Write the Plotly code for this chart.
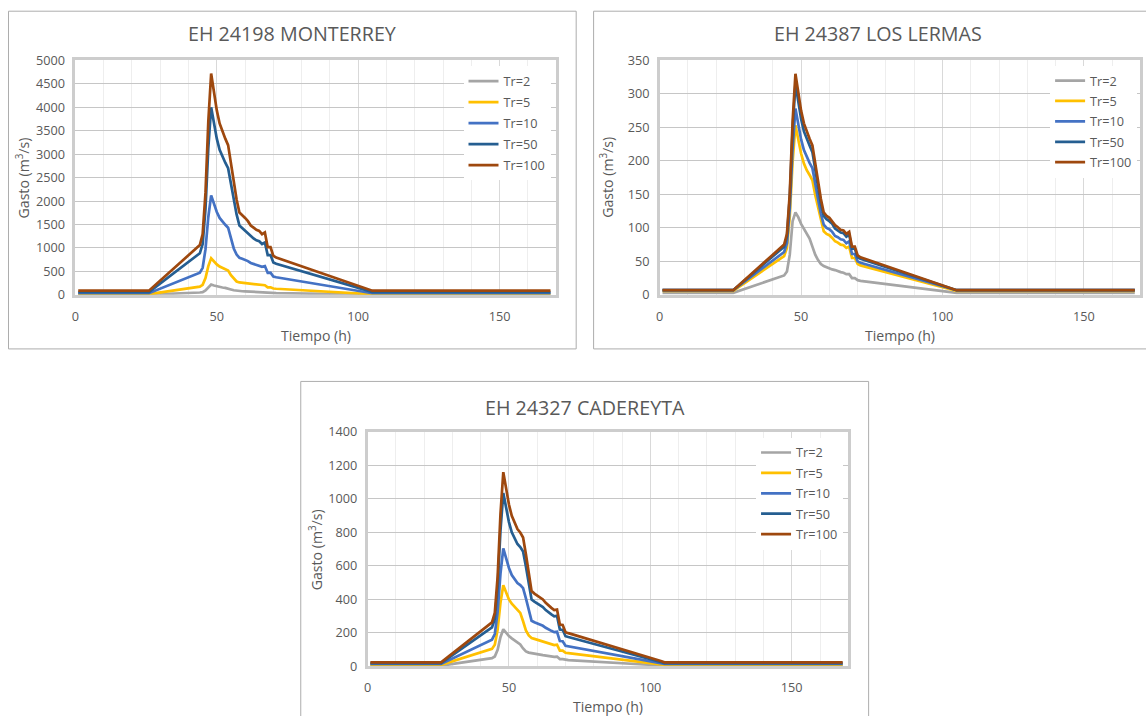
import plotly.graph_objects as go

# ---------------- data ----------------
tiempo = [1, 26, 44, 45, 46, 47, 48, 49, 50, 51, 52, 53, 54, 55, 56, 57, 58, 59, 60,
          61, 62, 63, 64, 65, 66, 67, 68, 69, 70, 71, 104, 105, 168]

series_names = ["Tr=2", "Tr=5", "Tr=10", "Tr=50", "Tr=100"]

# EH 24198 MONTERREY
mty_tr2 = [5, 5, 50, 58, 95, 170, 220, 200, 182, 168, 158, 150, 140, 115, 98, 88, 80, 77, 75,
           72, 68, 66, 63, 62, 59, 60, 45, 45, 40, 38, 6, 5, 5]
mty_tr5 = [15, 15, 176, 214, 359, 612, 780, 711, 650, 604, 573, 551, 520, 420, 340, 285, 265, 258, 250,
           240, 230, 222, 215, 210, 200, 205, 160, 160, 135, 130, 18, 15, 15]
mty_tr10 = [35, 35, 473, 577, 973, 1661, 2120, 1932, 1766, 1640, 1557, 1495, 1432, 1200, 990, 860, 790, 770, 750,
            720, 680, 660, 640, 630, 600, 615, 470, 475, 390, 375, 45, 35, 35]
mty_tr50 = [60, 60, 887, 1084, 1833, 3133, 4000, 3645, 3330, 3094, 2936, 2818, 2700, 2345, 2030, 1715, 1478, 1419, 1380,
            1321, 1242, 1203, 1163, 1144, 1084, 1116, 848, 848, 690, 663, 80, 60, 60]
mty_tr100 = [90, 90, 1062, 1294, 2174, 3701, 4720, 4303, 3933, 3655, 3470, 3331, 3192, 2775, 2405, 2035, 1757, 1687, 1641,
             1572, 1479, 1433, 1386, 1363, 1294, 1331, 1016, 1016, 831, 798, 113, 90, 90]

# EH 24387 LOS LERMAS
ler_tr2 = [3, 3, 29, 35, 60, 110, 123, 116, 106, 98, 92, 84, 72, 60, 52, 46, 43, 41, 40,
           38, 37, 35, 34, 33, 31, 31, 25, 25, 22, 21, 4, 3, 3]
ler_tr5 = [6, 6, 58, 70, 117, 199, 253, 231, 211, 196, 186, 179, 171, 149, 130, 110, 95, 91, 89,
           85, 80, 78, 75, 74, 70, 72, 55, 55, 46, 44, 7, 6, 6]
ler_tr10 = [7, 7, 64, 77, 129, 218, 278, 254, 232, 216, 205, 197, 189, 164, 143, 121, 105, 100, 98,
            94, 88, 86, 83, 82, 77, 80, 61, 61, 50, 48, 8, 7, 7]
ler_tr50 = [7, 7, 72, 87, 146, 247, 315, 287, 263, 244, 232, 223, 213, 186, 161, 136, 118, 113, 110,
            106, 99, 96, 93, 92, 87, 90, 69, 69, 56, 54, 9, 7, 7]
ler_tr100 = [7, 7, 75, 91, 152, 259, 330, 301, 275, 256, 243, 233, 223, 194, 169, 143, 123, 118, 115,
             110, 104, 101, 97, 96, 91, 94, 72, 72, 59, 56, 9, 7, 7]

# EH 24327 CADEREYTA
cad_tr2 = [5, 5, 50, 60, 100, 175, 222, 200, 182, 168, 155, 145, 132, 108, 90, 83, 79, 76, 74,
           71, 68, 65, 62, 61, 58, 59, 44, 44, 40, 38, 6, 5, 5]
cad_tr5 = [10, 10, 105, 130, 220, 380, 485, 440, 400, 375, 355, 340, 320, 270, 215, 185, 170, 165, 160,
           155, 148, 142, 138, 135, 128, 130, 95, 95, 82, 80, 12, 10, 10]
cad_tr10 = [15, 15, 160, 194, 326, 553, 705, 643, 588, 546, 519, 498, 486, 468, 407, 340, 273, 264, 258,
            252, 243, 231, 220, 213, 205, 207, 152, 151, 124, 121, 19, 15, 15]
cad_tr50 = [20, 20, 233, 284, 477, 811, 1035, 943, 862, 801, 761, 731, 713, 686, 597, 498, 400, 387, 378,
            369, 355, 337, 321, 311, 299, 302, 221, 219, 181, 176, 25, 20, 20]
cad_tr100 = [25, 25, 263, 320, 536, 910, 1160, 1058, 967, 899, 854, 820, 800, 770, 670, 560, 450, 435, 425,
             415, 400, 380, 362, 350, 337, 340, 250, 248, 205, 199, 31, 25, 25]

titles = ["EH 24198 MONTERREY", "EH 24387 LOS LERMAS", "EH 24327 CADEREYTA"]
y_max = [5000, 350, 1400]
y_dtick = [500, 50, 200]
x_ticks = [0, 50, 100, 150]

# ---------------- styling ----------------
W, H = 1150, 725
colors = ["#A5A5A5", "#FFC000", "#4472C4", "#255E91", "#9E480E"]
FONT = "Open Sans"
TXT = "#595959"

# target screen positions are given in picture pixels; map them to figure pixels
SX, OX = 0.995, 3.0
SY, OY = 0.978, 6.8

def fx(x):
    return (x - OX) / SX

def fy(y):
    return (y - OY) / SY

def px(x):
    return fx(x) / W

def py(y):
    return 1 - fy(y) / H

# geometry in picture pixels: (plot left, plot right, plot top, plot bottom)
plots = [(74.3, 554.3, 57.3, 292.5), (657.7, 1137.7, 57.3, 292.5), (366.0, 846.0, 430.0, 665.2)]
panels = [(7.5, 8.0, 574.3, 346.7), (591.7, 8.0, 1165.0, 346.7), (299.3, 379.3, 866.3, 730.0)]
title_y = [30.8, 30.8, 405.0]
# legend: (left edge, first item centre, extra gap between items)
legend_pos = [(461.8, 79.5, 1.5), (1047.5, 79.0, 0.9), (753.9, 452.0, 0.9)]
LEG_CENTER_OFFSET = 16.6  # figure px from legend top to first item centre

data_sets = [
    [mty_tr2, mty_tr5, mty_tr10, mty_tr50, mty_tr100],
    [ler_tr2, ler_tr5, ler_tr10, ler_tr50, ler_tr100],
    [cad_tr2, cad_tr5, cad_tr10, cad_tr50, cad_tr100],
]

fig = go.Figure()
layout = dict(
    width=W, height=H, margin=dict(l=0, r=0, t=0, b=0),
    paper_bgcolor="white", plot_bgcolor="white",
    font=dict(family=FONT, color=TXT, size=12.7),
    showlegend=True,
)
shapes = []
annotations = []

for i in range(3):
    sfx = "" if i == 0 else str(i + 1)
    leg = "legend" if i == 0 else "legend" + str(i + 1)
    for j, name in enumerate(series_names):
        fig.add_trace(go.Scatter(
            x=tiempo, y=data_sets[i][j], mode="lines", name=name,
            line=dict(color=colors[j], width=2.7),
            xaxis="x" + sfx, yaxis="y" + sfx, legend=leg,
            legendgroup=f"p{i}s{j}",
        ))
    l, r, t, b = plots[i]
    layout["xaxis" + sfx] = dict(
        domain=[px(l), min(px(r), 1.0)], anchor="y" + sfx, range=[0, 170],
        tickvals=x_ticks, ticks="outside", ticklen=8, tickcolor="rgba(0,0,0,0)",
        showgrid=True, gridcolor="#D9D9D9", gridwidth=1.3,
        minor=dict(dtick=10, tick0=0, showgrid=True, gridcolor="#EEEEEE", gridwidth=1),
        showline=True, mirror=True, linecolor="#CDCDCD", linewidth=2.5,
        zeroline=False, tickfont=dict(size=12.7, color=TXT),
    )
    layout["yaxis" + sfx] = dict(
        domain=[py(b), py(t)], anchor="x" + sfx, range=[0, y_max[i]],
        dtick=y_dtick[i], tick0=0, ticks="outside", ticklen=5, tickcolor="rgba(0,0,0,0)",
        showgrid=True, gridcolor="#C6C6C6", gridwidth=1.3,
        showline=True, mirror=True, linecolor="#CDCDCD", linewidth=2.5,
        zeroline=False, tickfont=dict(size=12.7, color=TXT),
    )
    lx, lc, gap = legend_pos[i]
    layout[leg] = dict(
        x=px(lx), y=1 - (fy(lc) - LEG_CENTER_OFFSET) / H, xanchor="left", yanchor="top",
        xref="paper", yref="paper",
        bgcolor="white", borderwidth=0, font=dict(size=12.7, color=TXT),
        tracegroupgap=gap, itemwidth=30,
    )
    x0, y0, x1, y1 = panels[i]
    shapes.append(dict(type="rect", xref="paper", yref="paper",
                       x0=px(x0), x1=px(x1), y0=py(y0), y1=py(y1),
                       line=dict(color="#ADADAD", width=1), fillcolor="rgba(0,0,0,0)", layer="below"))
    # chart title
    tcx = [290.8, 875.2, 582.8][i]
    annotations.append(dict(text=titles[i], xref="paper", yref="paper",
                            x=px(tcx), y=py(title_y[i]), xanchor="center", yanchor="middle",
                            showarrow=False, font=dict(size=19.7, color=TXT, family=FONT)))
    # axis titles
    annotations.append(dict(text="Tiempo (h)", xref="paper", yref="paper",
                            x=px((l + r) / 2), y=py(b + 40.5), xanchor="center", yanchor="middle",
                            showarrow=False, font=dict(size=14.1, color=TXT, family=FONT)))
    annotations.append(dict(text="Gasto (m<sup>3</sup>/s)", xref="paper", yref="paper",
                            x=px(l - 52.5), y=py((t + b) / 2), xanchor="center", yanchor="middle",
                            textangle=-90, showarrow=False, font=dict(size=14.1, color=TXT, family=FONT)))

layout["shapes"] = shapes
layout["annotations"] = annotations
fig.update_layout(**layout)
fig.write_html("out.html")
